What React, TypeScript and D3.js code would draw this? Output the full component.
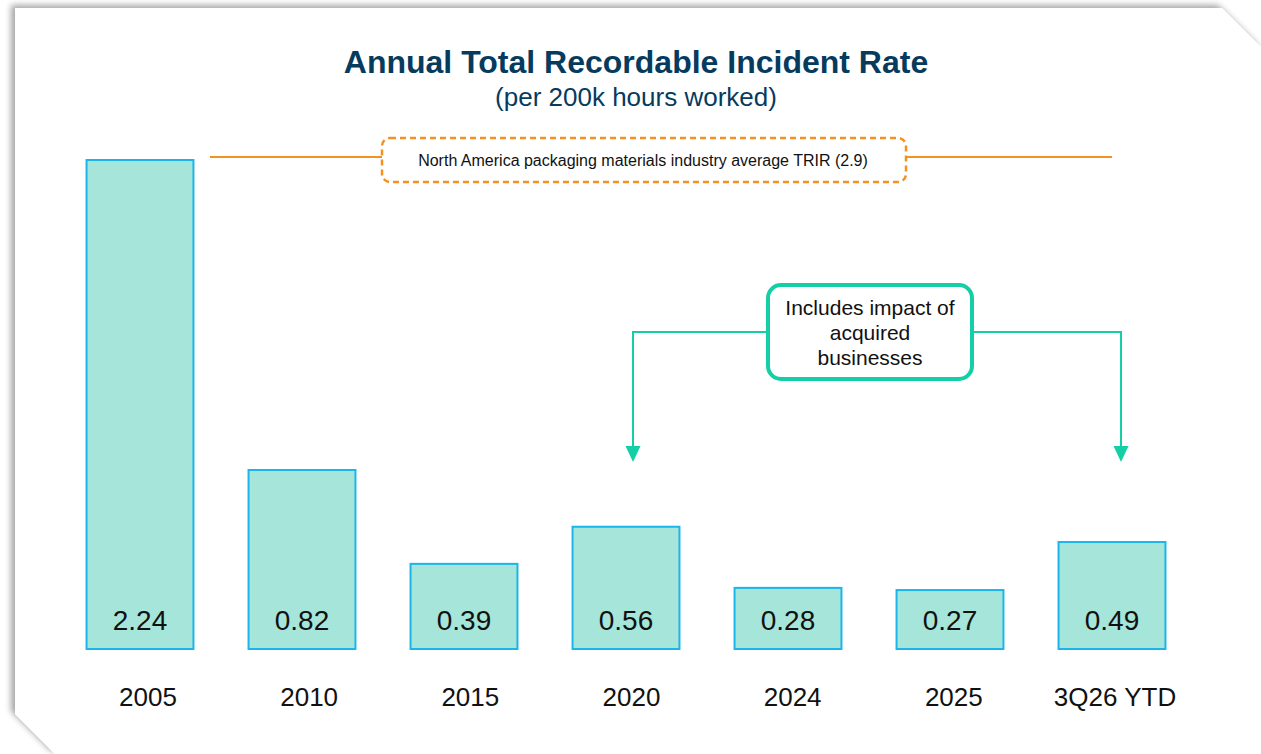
import React from "react";
import * as d3 from "d3";

const categories = ["2005", "2010", "2015", "2020", "2024", "2025", "3Q26 YTD"];
const values = [2.24, 0.82, 0.39, 0.56, 0.28, 0.27, 0.49];
const valueLabels = ["2.24", "0.82", "0.39", "0.56", "0.28", "0.27", "0.49"];
const title = "Annual Total Recordable Incident Rate";
const subtitle = "(per 200k hours worked)";
const benchmarkText = "North America packaging materials industry average TRIR (2.9)";
const calloutLines = ["Includes impact of", "acquired", "businesses"];
const calloutTargets = ["2020", "3Q26 YTD"];

const W = 1261;
const H = 754;
const FONT = "'Liberation Sans', Arial, Helvetica, sans-serif";
const NAVY = "#063b5e";
const ORANGE = "#f39220";
const TEAL = "#14cfa6";
const BAR_FILL = "#a6e5d9";
const BAR_STROKE = "#1cb5ea";

export default function App() {
  const x = d3
    .scaleBand<string>()
    .domain(categories)
    .range([59, 1193])
    .paddingInner(0.34)
    .paddingOuter(0.17);
  // category labels sit in their own row with a slightly different spacing
  const xLabel = d3.scalePoint<string>().domain(categories).range([148, 1115]);
  const baseY = 649;
  const y = d3.scaleLinear().domain([0, 1]).range([baseY, baseY - 218.3]);
  const bw = x.bandwidth();

  const panel = "M15,8 L1222,8 L1261,47 L1261,754 L55,754 L15,714 Z";

  // callout geometry
  const box = { x0: 768, x1: 972, y0: 285, y1: 379 };
  const lineY = 332;
  const arrowTipY = 462;
  const leftX = (x(calloutTargets[0]) ?? 0) + bw / 2 + 7;
  const rightX = (x(calloutTargets[1]) ?? 0) + bw / 2 + 9;

  const orangeY = 157;
  const obox = { x0: 382, x1: 906, y0: 138, y1: 182 };

  return (
    <svg
      width={W}
      height={H}
      style={{ position: "absolute", left: 0, top: 0, display: "block" }}
      fontFamily={FONT}
    >
      <defs>
        <filter id="sh" x="-5%" y="-5%" width="110%" height="110%">
          <feGaussianBlur in="SourceAlpha" stdDeviation="3" />
          <feOffset dx="-4" dy="-3" result="b" />
          <feComponentTransfer>
            <feFuncA type="linear" slope="0.35" />
          </feComponentTransfer>
          <feMerge>
            <feMergeNode />
            <feMergeNode in="SourceGraphic" />
          </feMerge>
        </filter>
      </defs>
      <rect x={0} y={0} width={W} height={H} fill="#ffffff" />
      <path d={panel} fill="#ffffff" filter="url(#sh)" />

      <text x={636} y={73} textAnchor="middle" fontSize={32} fontWeight="bold" fill={NAVY}>
        {title}
      </text>
      <text x={636} y={106} textAnchor="middle" fontSize={26} fill={NAVY}>
        {subtitle}
      </text>

      {/* benchmark line */}
      <line x1={210} x2={obox.x0} y1={orangeY} y2={orangeY} stroke={ORANGE} strokeWidth={2} />
      <line x1={obox.x1} x2={1112} y1={orangeY} y2={orangeY} stroke={ORANGE} strokeWidth={2} />
      <rect
        x={obox.x0}
        y={obox.y0}
        width={obox.x1 - obox.x0}
        height={obox.y1 - obox.y0}
        rx={8}
        fill="#ffffff"
        stroke={ORANGE}
        strokeWidth={2.5}
        strokeDasharray="6 4"
      />
      <text x={643} y={166} textAnchor="middle" fontSize={16} fill="#111">
        {benchmarkText}
      </text>

      {/* bars */}
      {categories.map((c, i) => (
        <g key={c}>
          <rect
            x={x(c)}
            y={y(values[i])}
            width={bw}
            height={baseY - y(values[i])}
            fill={BAR_FILL}
            stroke={BAR_STROKE}
            strokeWidth={2}
          />
          <text x={(x(c) ?? 0) + bw / 2} y={baseY - 19} textAnchor="middle" fontSize={28} fill="#111">
            {valueLabels[i]}
          </text>
          <text x={xLabel(c)} y={706} textAnchor="middle" fontSize={26} fill="#111">
            {c}
          </text>
        </g>
      ))}

      {/* callout */}
      <polyline
        points={`${box.x0},${lineY} ${leftX},${lineY} ${leftX},${arrowTipY - 14}`}
        fill="none"
        stroke={TEAL}
        strokeWidth={2}
      />
      <path d={`M${leftX - 7.5},${arrowTipY - 16} L${leftX + 7.5},${arrowTipY - 16} L${leftX},${arrowTipY} Z`} fill={TEAL} />
      <polyline
        points={`${box.x1},${lineY} ${rightX},${lineY} ${rightX},${arrowTipY - 14}`}
        fill="none"
        stroke={TEAL}
        strokeWidth={2}
      />
      <path d={`M${rightX - 7.5},${arrowTipY - 16} L${rightX + 7.5},${arrowTipY - 16} L${rightX},${arrowTipY} Z`} fill={TEAL} />
      <rect
        x={box.x0}
        y={box.y0}
        width={box.x1 - box.x0}
        height={box.y1 - box.y0}
        rx={13}
        fill="#ffffff"
        stroke={TEAL}
        strokeWidth={4}
      />
      {calloutLines.map((l, i) => (
        <text key={l} x={(box.x0 + box.x1) / 2} y={315 + i * 25} textAnchor="middle" fontSize={21} fill="#111">
          {l}
        </text>
      ))}
    </svg>
  );
}
